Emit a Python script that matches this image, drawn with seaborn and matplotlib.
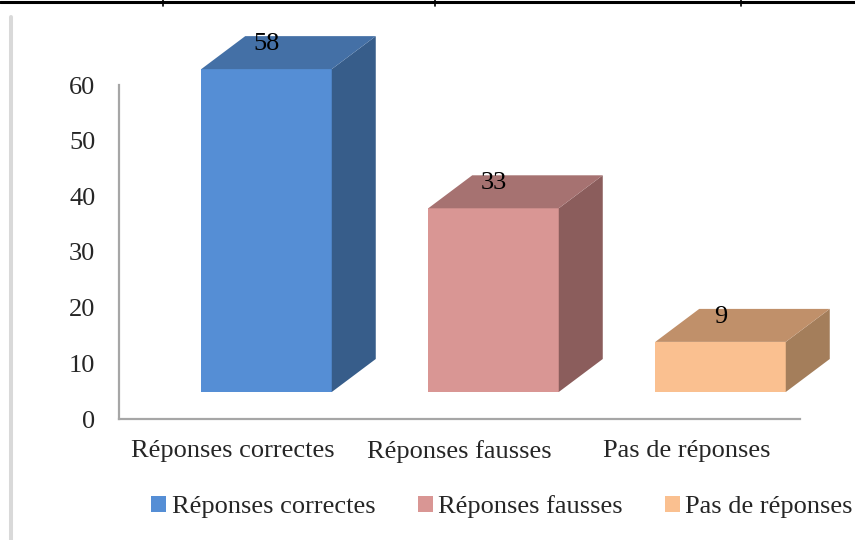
import matplotlib
matplotlib.use("Agg")
import matplotlib.pyplot as plt
import seaborn as sns
import numpy as np
import pandas as pd
from matplotlib.patches import Patch, Polygon
from matplotlib.lines import Line2D

# ---- data ----
categories = ["Réponses correctes", "Réponses fausses", "Pas de réponses"]
values = [58, 33, 9]
y_ticks = [0, 10, 20, 30, 40, 50, 60]

front_colors = ["#558ED5", "#D99694", "#FAC090"]
side_colors = ["#375D8A", "#8B5D5C", "#A47E5B"]
top_colors = ["#4470A6", "#A67271", "#C0906A"]

sns.set_style("white")
plt.rcParams["font.family"] = ["Liberation Serif", "DejaVu Serif"]
FS = 19

W, H = 855, 540
fig = plt.figure(figsize=(W / 100, H / 100), dpi=100)

# back wall axes
wall_l, wall_b, wall_w, wall_h = 119, 419, 681, 334
ax = fig.add_axes([wall_l / W, 1 - wall_b / H, wall_w / W, wall_h / H])
ax.set_xlim(-0.5, 2.5)
ax.set_ylim(0, 60)
ax.set_yticks(y_ticks)
ax.set_yticklabels([str(t) for t in y_ticks], fontsize=FS)
ax.set_xticks(range(len(categories)))
ax.set_xticklabels(categories, fontsize=FS)
ax.tick_params(axis="y", length=0, pad=17)
ax.tick_params(axis="x", length=0, pad=15)
for s in ["top", "right"]:
    ax.spines[s].set_visible(False)
for s in ["left", "bottom"]:
    ax.spines[s].set_color("#A6A6A6")
    ax.spines[s].set_linewidth(1.6)
ax.set_facecolor("none")

# bars axes (front plane, shifted)
shift_x, shift_y = 34, 27
ax2 = fig.add_axes([(wall_l + shift_x) / W, 1 - (wall_b - shift_y) / H, wall_w / W, wall_h / H])
ax2.set_facecolor("none")
df = pd.DataFrame({"cat": categories, "val": values})
sns.barplot(data=df, x="cat", y="val", hue="cat", palette=front_colors,
            width=0.575, saturation=1, legend=False, ax=ax2, linewidth=0)
ax2.set_xlim(-0.5, 2.5)
ax2.set_ylim(0, 60)
ax2.axis("off")

# 3D depth faces
dpx, dpy = 44, 33
td = ax2.transData
inv = td.inverted()
for i, p in enumerate(ax2.patches):
    x0, w, h = p.get_x(), p.get_width(), p.get_height()
    (ax0, ay0), (ax1, ay1) = td.transform([(x0, 0), (x0 + w, h)])
    top = [(ax0, ay1), (ax1, ay1), (ax1 + dpx, ay1 + dpy), (ax0 + dpx, ay1 + dpy)]
    side = [(ax1, ay0), (ax1 + dpx, ay0 + dpy), (ax1 + dpx, ay1 + dpy), (ax1, ay1)]
    ax2.add_patch(Polygon(inv.transform(side), closed=True, facecolor=side_colors[i],
                          edgecolor="none", clip_on=False))
    ax2.add_patch(Polygon(inv.transform(top), closed=True, facecolor=top_colors[i],
                          edgecolor="none", clip_on=False))
    ax2.annotate(str(values[i]), xy=(x0 + w / 2, h), xytext=(0, 18),
                 textcoords="offset points", ha="center", va="center",
                 fontsize=FS, color="black", annotation_clip=False)

# legend
handles = [Patch(facecolor=c, edgecolor="none") for c in front_colors]
fig.legend(handles, categories, loc="center", bbox_to_anchor=(502 / W, 1 - 507 / H),
           ncol=3, frameon=False, fontsize=FS, handlelength=0.57, handleheight=0.57,
           handletextpad=0.2, columnspacing=1.6, borderaxespad=0, borderpad=0)

# page decorations (table border and frame line)
fig.add_artist(Line2D([0, 1], [1 - 1.5 / H] * 2, color="black", lw=2.2,
                      transform=fig.transFigure))
for xs in [163, 435, 741]:
    fig.add_artist(Line2D([xs / W] * 2, [1, 1 - 6 / H], color="black", lw=1.2,
                          transform=fig.transFigure))
fig.add_artist(Line2D([11 / W] * 2, [1 - 17 / H, 0], color="#D9D9D9", lw=2.9,
                      transform=fig.transFigure))

fig.savefig("out.png", dpi=100)
